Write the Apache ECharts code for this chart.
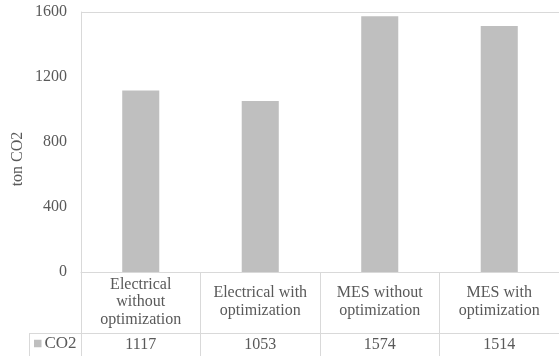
<!DOCTYPE html>
<html>
<head>
<meta charset="utf-8">
<script src="https://cdn.jsdelivr.net/npm/echarts@6/dist/echarts.min.js"></script>
<style>
  html, body { margin: 0; padding: 0; background: #ffffff; }
  #chart { width: 559px; height: 356px; }
</style>
</head>
<body>
<div id="chart"></div>
<script>
// Scenario names, emissions per scenario and value axis ticks
const categories = [
  'Electrical\nwithout\noptimization',
  'Electrical with\noptimization',
  'MES without\noptimization',
  'MES with\noptimization'
];
const seriesName = 'CO2';
const co2Values = [1117, 1053, 1574, 1514];
const yTicks = [0, 400, 800, 1200, 1600];
const yAxisTitle = 'ton CO2';

const FONT = "'Liberation Serif', 'Times New Roman', serif";
const TEXT = '#595959';
const RULE = '#d9d9d9';

const chart = echarts.init(document.getElementById('chart'), null, { renderer: 'canvas' });

const yMin = yTicks[0];
const yMax = yTicks[yTicks.length - 1];
const yStep = yTicks[1] - yTicks[0];

chart.setOption({
  animation: false,
  backgroundColor: '#ffffff',
  grid: { left: 81, top: 12, width: 488, height: 260, containLabel: false },
  legend: {
    data: [seriesName],
    left: 34,
    top: 335,
    padding: 0,
    icon: 'rect',
    itemWidth: 7.5,
    itemHeight: 7.5,
    textStyle: { fontFamily: FONT, fontSize: 17, color: TEXT, padding: [1, 0, 0, -2] }
  },
  xAxis: [
    {
      type: 'category',
      data: categories,
      position: 'bottom',
      boundaryGap: true,
      axisLine: { show: true, lineStyle: { color: RULE, width: 1 } },
      axisTick: { show: true, interval: 0, length: 90, lineStyle: { color: RULE, width: 1 } },
      axisLabel: {
        interval: 0,
        margin: 30,
        verticalAlign: 'middle',
        fontFamily: FONT,
        fontSize: 16,
        lineHeight: 17.5,
        color: TEXT,
        align: 'center'
      },
      splitLine: { show: false }
    },
    {
      type: 'category',
      data: co2Values.map(String),
      position: 'bottom',
      offset: 61,
      boundaryGap: true,
      axisLine: { show: false },
      axisTick: { show: false },
      axisLabel: {
        interval: 0,
        margin: 12,
        verticalAlign: 'middle',
        fontFamily: FONT,
        fontSize: 16,
        color: TEXT
      },
      splitLine: { show: false }
    }
  ],
  yAxis: {
    type: 'value',
    min: yMin,
    max: yMax,
    interval: yStep,
    axisLine: { show: true, lineStyle: { color: RULE, width: 1 } },
    axisTick: { show: false },
    axisLabel: {
      margin: 14,
      fontFamily: FONT,
      fontSize: 16,
      color: TEXT,
      formatter: (v) => String(v)
    },
    splitLine: {
      show: true,
      lineStyle: {
        // only the top (maximum) line is drawn
        color: yTicks.map((t) => (t === yMax ? RULE : 'rgba(0,0,0,0)')),
        width: 1
      }
    }
  },
  graphic: [
    {
      type: 'line',
      shape: { x1: 29, y1: 333.5, x2: 559, y2: 333.5 },
      style: { stroke: RULE, lineWidth: 1 },
      silent: true
    },
    {
      type: 'line',
      shape: { x1: 29.5, y1: 333, x2: 29.5, y2: 356 },
      style: { stroke: RULE, lineWidth: 1 },
      silent: true
    },
    {
      type: 'text',
      x: 18,
      y: 159,
      rotation: Math.PI / 2,
      style: {
        text: yAxisTitle,
        fontFamily: FONT,
        fontSize: 16,
        fill: TEXT,
        align: 'center',
        verticalAlign: 'middle'
      },
      silent: true
    }
  ],
  series: [
    {
      name: seriesName,
      type: 'bar',
      xAxisIndex: 0,
      data: co2Values,
      barWidth: '31%',
      itemStyle: { color: '#bfbfbf' }
    }
  ]
});
</script>
</body>
</html>
